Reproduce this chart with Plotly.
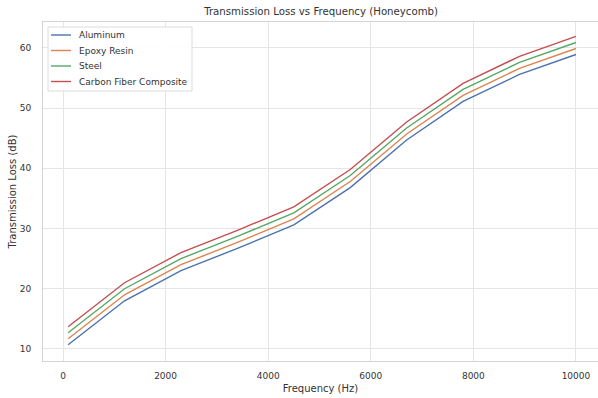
import plotly.graph_objects as go

frequency = [100, 1200, 2300, 3400, 4500, 5600, 6700, 7800, 8900, 10000]
aluminum = [10.7, 18.0, 23.0, 26.7, 30.6, 36.8, 44.7, 51.1, 55.6, 58.9]
epoxy_resin = [11.7, 19.0, 24.0, 27.7, 31.6, 37.8, 45.7, 52.1, 56.6, 59.9]
steel = [12.7, 20.0, 25.0, 28.7, 32.6, 38.8, 46.7, 53.1, 57.6, 60.9]
carbon_fiber = [13.7, 21.0, 26.0, 29.7, 33.6, 39.8, 47.7, 54.1, 58.6, 61.9]

series_names = ["Aluminum", "Epoxy Resin", "Steel", "Carbon Fiber Composite"]
series_values = [aluminum, epoxy_resin, steel, carbon_fiber]
colors = ["#4c72b0", "#dd8452", "#55a868", "#c44e52"]

x_ticks = [0, 2000, 4000, 6000, 8000, 10000]
y_ticks = [10, 20, 30, 40, 50, 60]

font_family = "DejaVu Sans"
text_color = "#333333"

W, H = 598, 398
ML, MR, MT, MB = 43, 0, 22, 37
PW, PH = W - ML - MR, H - MT - MB


def px(xp):
    return (xp - ML) / PW


def py(yp):
    return (H - MB - yp) / PH


fig = go.Figure()
for name, vals, col in zip(series_names, series_values, colors):
    fig.add_trace(go.Scatter(x=frequency, y=vals, mode="lines", name=name,
                             line=dict(color=col, width=1.4), showlegend=False))

# legend drawn as a framed box with line samples and labels
shapes = [dict(type="rect", xref="paper", yref="paper",
               x0=px(48), x1=px(192), y0=py(91), y1=py(27),
               line=dict(color="#dcdcdc", width=1), fillcolor="rgba(255,255,255,0.9)",
               layer="above")]
annotations = []
for i, (name, col) in enumerate(zip(series_names, colors)):
    yy = py(35 + i * 15.5)
    shapes.append(dict(type="line", xref="paper", yref="paper",
                       x0=px(51), x1=px(71), y0=yy, y1=yy,
                       line=dict(color=col, width=1.4), layer="above"))
    annotations.append(dict(text=name, xref="paper", yref="paper", x=px(77), y=yy,
                            xanchor="left", yanchor="middle", showarrow=False,
                            font=dict(family=font_family, size=9, color=text_color)))

axis_common = dict(
    showgrid=True, gridcolor="#e5e5e5", gridwidth=1,
    showline=True, linecolor="#d4d4d4", linewidth=1, mirror=True,
    zeroline=False, ticks="", tickfont=dict(family=font_family, size=9, color=text_color),
)

fig.update_layout(
    width=W, height=H,
    margin=dict(l=ML, r=MR, t=MT, b=MB),
    paper_bgcolor="white", plot_bgcolor="white",
    title=dict(text="Transmission Loss vs Frequency (Honeycomb)",
               x=0.537, xanchor="center", y=1 - 11 / H, yanchor="middle",
               font=dict(family=font_family, size=10.2, color=text_color)),
    xaxis=dict(range=[-390, 10430], tickvals=x_ticks,
               ticktext=[str(v) for v in x_ticks],
               title=dict(text="Frequency (Hz)", standoff=5,
                          font=dict(family=font_family, size=10, color=text_color)),
               ticklabelstandoff=6, **axis_common),
    yaxis=dict(range=[8.0, 64.3], tickvals=y_ticks,
               ticktext=[str(v) for v in y_ticks],
               title=dict(text="Transmission Loss (dB)", standoff=1,
                          font=dict(family=font_family, size=10, color=text_color)),
               ticklabelstandoff=9, **axis_common),
    shapes=shapes,
    annotations=annotations,
    showlegend=False,
)

fig.write_html("out.html")
